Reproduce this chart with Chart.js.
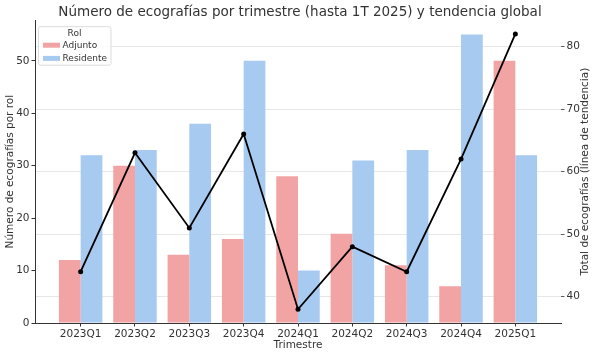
<!DOCTYPE html>
<html>
<head>
<meta charset="utf-8">
<script src="https://cdn.jsdelivr.net/npm/chart.js@4/dist/chart.umd.min.js"></script>
<style>
html,body{margin:0;padding:0;background:#fff;}
#wrap{width:600px;height:357px;}
</style>
</head>
<body>
<div id="wrap"><canvas id="c" width="600" height="357"></canvas></div>
<script>
const categories = ['2023Q1','2023Q2','2023Q3','2023Q4','2024Q1','2024Q2','2024Q3','2024Q4','2025Q1'];
const adjunto = [12,30,13,16,28,17,11,7,50];
const residente = [32,33,38,50,10,31,33,55,32];
const total = [44,63,51,66,38,48,44,62,82];
const leftTicks = [0,10,20,30,40,50];
const rightTicks = [40,50,60,70,80];

const FONT = "'DejaVu Sans', sans-serif";
const TXT = '#333';

const rightTitle = {
  id: 'rightTitle',
  afterDraw(chart) {
    const ctx = chart.ctx, a = chart.chartArea;
    ctx.save();
    ctx.translate(585, (a.top + a.bottom) / 2);
    ctx.rotate(-Math.PI / 2);
    ctx.font = "10.5px " + FONT;
    ctx.fillStyle = TXT;
    ctx.textAlign = 'center';
    ctx.textBaseline = 'middle';
    ctx.fillText('Total de ecografías (línea de tendencia)', 0, 0);
    ctx.restore();
  }
};

const boxLegend = {
  id: 'boxLegend',
  afterDatasetsDraw(chart) {
    const ctx = chart.ctx, a = chart.chartArea;
    const x0 = a.left + 3.5, y0 = a.top + 6.5, w = 72.5, h = 38.5;
    ctx.save();
    ctx.fillStyle = 'rgba(255,255,255,0.8)';
    ctx.strokeStyle = '#dcdcdc';
    ctx.lineWidth = 1;
    ctx.beginPath();
    ctx.roundRect(x0, y0, w, h, 2);
    ctx.fill();
    ctx.stroke();
    ctx.font = "9px " + FONT;
    ctx.fillStyle = TXT;
    ctx.textBaseline = 'middle';
    ctx.textAlign = 'center';
    ctx.fillText('Rol', x0 + 36, y0 + 6.5);
    ctx.textAlign = 'left';
    chart.data.datasets.slice(0, 2).forEach((ds, k) => {
      const cy = y0 + 18.5 + k * 13.2;
      ctx.fillStyle = ds.backgroundColor;
      ctx.fillRect(x0 + 4.5, cy - 2.5, 17, 5);
      ctx.fillStyle = TXT;
      ctx.fillText(ds.label, x0 + 24, cy);
    });
    ctx.restore();
  }
};

new Chart(document.getElementById('c'), {
  data: {
    datasets: [
      { type: 'bar', label: 'Adjunto', data: adjunto.map((v, i) => ({x: i, y: v})),
        backgroundColor: '#F2A3A3', yAxisID: 'y', order: 1,
        categoryPercentage: 0.8, barPercentage: 1.0 },
      { type: 'bar', label: 'Residente', data: residente.map((v, i) => ({x: i, y: v})),
        backgroundColor: '#A6CAF0', yAxisID: 'y', order: 1,
        categoryPercentage: 0.8, barPercentage: 1.0 },
      { type: 'line', label: 'Total', data: total.map((v, i) => ({x: i, y: v})),
        borderColor: '#000', backgroundColor: '#000', borderWidth: 1.8,
        pointRadius: 2.5, pointBackgroundColor: '#000', pointBorderWidth: 0,
        yAxisID: 'y1', order: 0, tension: 0 }
    ]
  },
  options: {
    responsive: false,
    animation: false,
    devicePixelRatio: 1,
    layout: { padding: 0, autoPadding: false },
    scales: {
      x: {
        type: 'linear', min: -0.84, max: 8.84, offset: false,
        afterBuildTicks: s => { s.ticks = categories.map((c, i) => ({value: i})); },
        afterFit: s => { s.height = 34; },
        ticks: { callback: v => categories[v] ?? '', autoSkip: false, maxRotation: 0,
                 color: TXT, font: {family: FONT, size: 10.5}, padding: 1 },
        grid: { offset: false, drawOnChartArea: false, drawTicks: true, tickLength: 3.5, tickColor: '#333' },
        border: { display: true, color: '#333', width: 1 },
        title: { display: true, text: 'Trimestre', color: TXT, font: {family: FONT, size: 10.5}, padding: {top: 0, bottom: 5} }
      },
      y: {
        type: 'linear', position: 'left', min: 0, max: 57.75,
        afterBuildTicks: s => { s.ticks = leftTicks.map(v => ({value: v})); },
        afterFit: s => { s.width = 35; },
        ticks: { color: TXT, font: {family: FONT, size: 10.5}, padding: 2 },
        grid: { drawOnChartArea: false, drawTicks: true, tickLength: 3.5, tickColor: '#333' },
        border: { display: true, color: '#333', width: 1 },
        title: { display: true, text: 'Número de ecografías por rol', color: TXT, font: {family: FONT, size: 10.5}, padding: {top: 4, bottom: 0} }
      },
      y1: {
        type: 'linear', position: 'right', min: 35.8, max: 84.2,
        afterBuildTicks: s => { s.ticks = rightTicks.map(v => ({value: v})); },
        afterFit: s => { s.width = 39; },
        ticks: { color: TXT, font: {family: FONT, size: 10.5}, padding: 2 },
        grid: { drawOnChartArea: true, color: 'rgba(0,0,0,0.12)', lineWidth: 0.8, borderDash: [1.5, 1.5],
                drawTicks: true, tickLength: 3.5, tickColor: '#333', tickBorderDash: [] },
        border: { display: false }
      }
    },
    plugins: {
      title: { display: true, text: 'Número de ecografías por trimestre (hasta 1T 2025) y tendencia global',
               color: TXT, font: {family: FONT, size: 13.5, weight: 'normal', lineHeight: 1.2}, padding: {top: 4, bottom: 0} },
      legend: { display: false },
      tooltip: { enabled: false }
    }
  },
  plugins: [rightTitle, boxLegend]
});
</script>
</body>
</html>
